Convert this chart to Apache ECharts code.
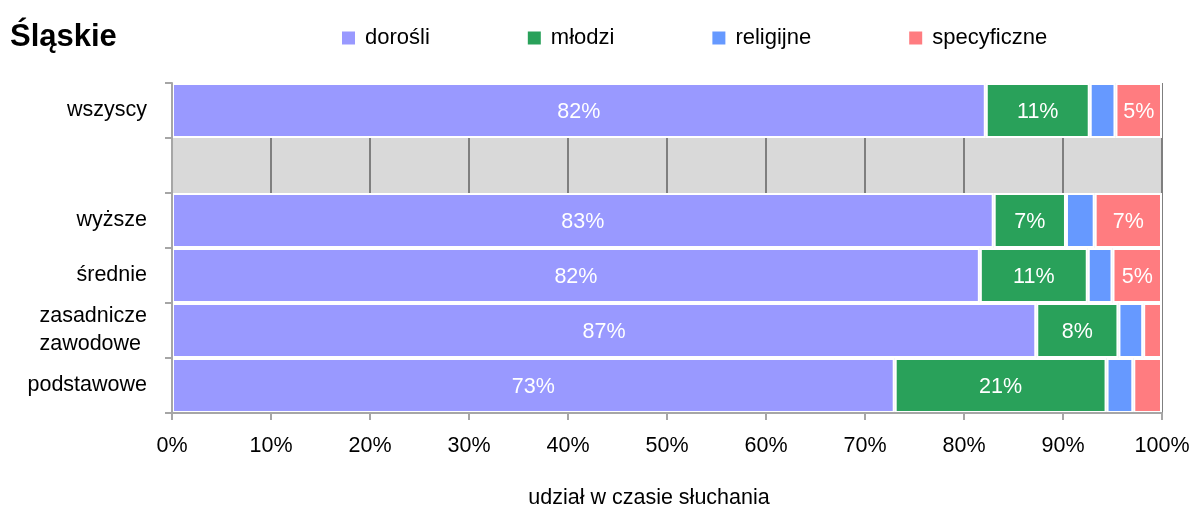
<!DOCTYPE html>
<html>
<head>
<meta charset="utf-8">
<script src="https://cdn.jsdelivr.net/npm/echarts@6/dist/echarts.min.js"></script>
<style>
  html, body { margin: 0; padding: 0; background: #fff; }
  #chart { width: 1195px; height: 507px; }
</style>
</head>
<body>
<div id="chart"></div>
<script>
// Education groups (the empty entry is the grey spacer row)
const categories = ['wszyscy', '', 'wyższe', 'średnie', 'zasadnicze\nzawodowe ', 'podstawowe'];

// Share of listening time per programme type, in %
const dorosli     = [82.2, null, 83.0, 81.6, 87.3, 73.0];
const mlodzi      = [10.5, null, 7.3, 10.9, 8.3, 21.4];
const religijne   = [2.6, null, 2.9, 2.5, 2.5, 2.7];
const specyficzne = [4.7, null, 6.8, 5.0, 1.9, 2.9];

const seriesNames = ['dorośli', 'młodzi', 'religijne', 'specyficzne'];
const seriesColors = ['#9999ff', '#29a15a', '#6699ff', '#ff7c80'];
const xTicks = [0, 10, 20, 30, 40, 50, 60, 70, 80, 90, 100];

const FONT = "'Liberation Sans', Arial, Helvetica, sans-serif";
const FS = 21.5;

const chart = echarts.init(document.getElementById('chart'));

function makeSeries(name, data, color) {
  return {
    name: name,
    type: 'bar',
    stack: 'total',
    xAxisIndex: 0,
    barWidth: '100%',
    data: data,
    itemStyle: { color: color, borderColor: '#ffffff', borderWidth: 2 },
    label: {
      show: true,
      position: 'inside',
      offset: [0, 2],
      color: '#ffffff',
      fontFamily: FONT,
      fontSize: FS,
      formatter: p => (p.value >= 4.5 ? Math.round(p.value) + '%' : '')
    }
  };
}

chart.setOption({
  animation: false,
  textStyle: { fontFamily: FONT },
  title: {
    text: 'Śląskie',
    left: 10,
    top: 22,
    padding: 0,
    textStyle: { fontFamily: FONT, fontWeight: 'bold', fontSize: 31, color: '#000' }
  },
  legend: {
    top: 27,
    left: 342,
    padding: 0,
    itemWidth: 13,
    itemHeight: 13,
    itemGap: 98,
    icon: 'rect',
    itemStyle: { borderWidth: 0 },
    textStyle: { fontFamily: FONT, fontSize: 22, color: '#000', padding: [6, 0, 0, 5] },
    data: seriesNames
  },
  grid: {
    left: 172,
    right: 33,
    top: 83,
    bottom: 94,
    outerBoundsMode: 'none',
    containLabel: false,
    show: true,
    backgroundColor: '#d9d9d9',
    borderWidth: 0
  },
  xAxis: [
    {
      // vertical gridlines, drawn underneath the bars
      type: 'value',
      min: 0,
      max: 100,
      interval: 10,
      z: 0,
      axisLine: { show: false },
      axisTick: { show: false },
      axisLabel: { show: false },
      splitLine: { show: true, lineStyle: { color: '#7f7f7f', width: 2 } }
    },
    {
      // visible axis line, ticks and labels on top of the bars
      type: 'value',
      min: 0,
      max: 100,
      interval: 10,
      z: 5,
      position: 'bottom',
      axisLine: { show: true, lineStyle: { color: '#a6a6a6', width: 2 } },
      axisTick: { show: true, length: 7, lineStyle: { color: '#a6a6a6', width: 2 } },
      axisLabel: {
        margin: 22,
        color: '#000',
        fontFamily: FONT,
        fontSize: FS,
        formatter: v => (xTicks.includes(v) ? v + '%' : '')
      },
      splitLine: { show: false },
      name: 'udział w czasie słuchania',
      nameLocation: 'middle',
      nameGap: 74,
      nameTextStyle: { color: '#000', fontFamily: FONT, fontSize: FS, padding: [0, 36, 0, 0] }
    }
  ],
  yAxis: {
    type: 'category',
    inverse: true,
    data: categories,
    z: 5,
    axisLine: { show: true, lineStyle: { color: '#a6a6a6', width: 2 } },
    axisTick: { show: true, length: 7, lineStyle: { color: '#a6a6a6', width: 2 } },
    axisLabel: {
      margin: 25,
      color: '#000',
      fontFamily: FONT,
      fontSize: FS,
      lineHeight: 28,
      padding: [5, 0, 0, 0],
      align: 'right'
    },
    splitLine: { show: false }
  },
  series: [
    makeSeries(seriesNames[0], dorosli, seriesColors[0]),
    makeSeries(seriesNames[1], mlodzi, seriesColors[1]),
    makeSeries(seriesNames[2], religijne, seriesColors[2]),
    makeSeries(seriesNames[3], specyficzne, seriesColors[3])
  ]
});
</script>
</body>
</html>
